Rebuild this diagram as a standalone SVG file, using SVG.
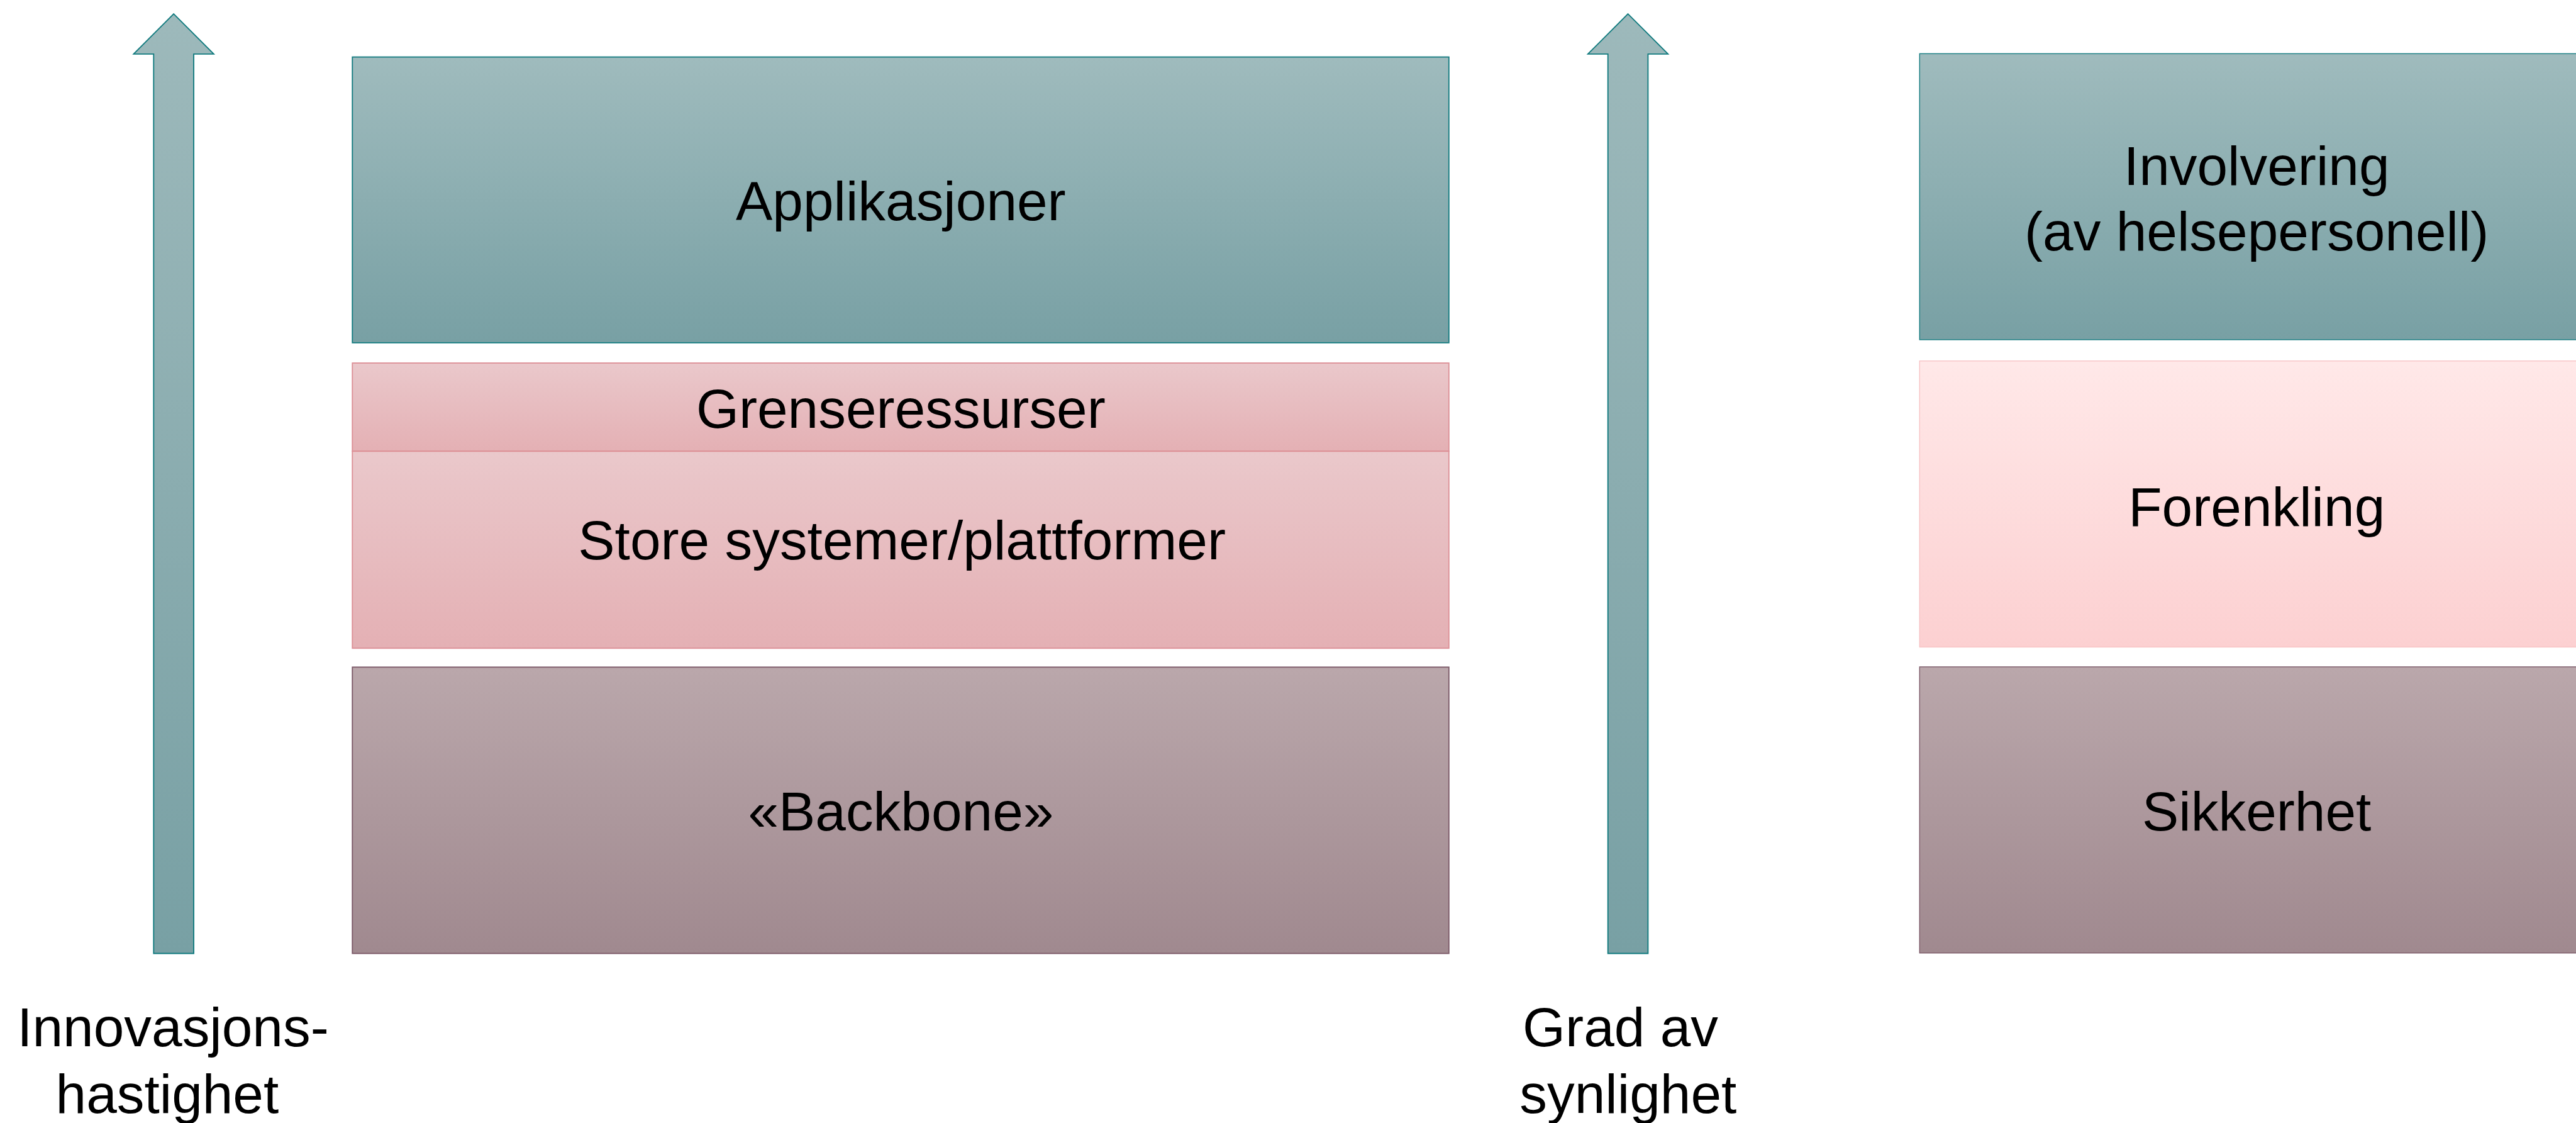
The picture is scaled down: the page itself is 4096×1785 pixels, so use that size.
<svg xmlns="http://www.w3.org/2000/svg" width="4096" height="1785" viewBox="0 0 4096 1785">
  <defs>
    <linearGradient id="gTeal" x1="0" y1="0" x2="0" y2="1">
      <stop offset="0" stop-color="#9fbbbd"/>
      <stop offset="1" stop-color="#78a0a4"/>
    </linearGradient>
    <linearGradient id="gArrow" gradientUnits="userSpaceOnUse" x1="0" y1="24" x2="0" y2="1664">
      <stop offset="0" stop-color="#9db9bb"/>
      <stop offset="1" stop-color="#78a0a4"/>
    </linearGradient>
    <linearGradient id="gPink" x1="0" y1="0" x2="0" y2="1">
      <stop offset="0" stop-color="#eac8cb"/>
      <stop offset="1" stop-color="#e4b0b4"/>
    </linearGradient>
    <linearGradient id="gMauve" x1="0" y1="0" x2="0" y2="1">
      <stop offset="0" stop-color="#baa7ab"/>
      <stop offset="1" stop-color="#a0898f"/>
    </linearGradient>
    <linearGradient id="gLight" x1="0" y1="0" x2="0" y2="1">
      <stop offset="0" stop-color="#ffe8e8"/>
      <stop offset="1" stop-color="#fcd0d1"/>
    </linearGradient>
    <style>
      text { font-family: "Liberation Sans", Arial, sans-serif; font-size: 96px; fill: #000; text-anchor: middle; }
      .teal { fill: url(#gTeal); stroke: #137a7f; stroke-width: 2; }
      .pink { fill: url(#gPink); stroke: #dc8f96; stroke-width: 2; }
      .mauve { fill: url(#gMauve); stroke: #7b5867; stroke-width: 2; }
      .light { fill: url(#gLight); stroke: #f7c2c4; stroke-width: 1.5; }
      .arrow { fill: url(#gArrow); stroke: #0f7a7e; stroke-width: 2; stroke-linejoin: miter; }
    </style>
  </defs>
  <rect width="4096" height="1785" fill="#ffffff"/>
  <g transform="scale(0.9106)">
    <!-- upward arrows -->
    <g id="arrow-innovasjon">
      <path class="arrow" d="M303.3 24.3 L373.3 94.3 L338.3 94.3 L338.3 1664.3 L268.3 1664.3 L268.3 94.3 L233.3 94.3 Z"/>
      <text x="302" y="1826.7">Innovasjons-</text>
      <text x="292" y="1942.7">hastighet</text>
    </g>
    <g id="arrow-synlighet">
      <path class="arrow" d="M2842.7 24.3 L2912.7 94.3 L2877.7 94.3 L2877.7 1664.3 L2807.7 1664.3 L2807.7 94.3 L2772.7 94.3 Z"/>
      <text x="2829.5" y="1826.7">Grad av</text>
      <text x="2843" y="1942.7">synlighet</text>
    </g>

    <!-- left stack -->
    <g id="applikasjoner">
      <rect class="teal" x="615.3" y="99.5" width="1914.7" height="498.8"/>
      <text x="1573" y="384.3">Applikasjoner</text>
    </g>
    <g id="grenseressurser">
      <rect class="pink" x="615.3" y="633.7" width="1914.7" height="154"/>
      <text x="1573" y="746.7">Grenseressurser</text>
    </g>
    <g id="store-systemer">
      <rect class="pink" x="615.3" y="787.7" width="1914.7" height="343.8"/>
      <text x="1575" y="976.7">Store systemer/plattformer</text>
    </g>
    <g id="backbone">
      <rect class="mauve" x="615.3" y="1164.5" width="1914.7" height="499.8"/>
      <text x="1573" y="1450">«Backbone»</text>
    </g>

    <!-- right stack -->
    <g id="involvering">
      <rect class="teal" x="3352" y="93.7" width="1177" height="499.3" style="stroke-width:1.5"/>
      <text x="3940.5" y="322.9">Involvering</text>
      <text x="3940.5" y="437">(av helsepersonell)</text>
    </g>
    <g id="forenkling">
      <rect class="light" x="3352" y="630" width="1177" height="499.5"/>
      <text x="3940.5" y="918">Forenkling</text>
    </g>
    <g id="sikkerhet">
      <rect class="mauve" x="3352" y="1164" width="1177" height="499.5" style="stroke-width:1.5"/>
      <text x="3940.5" y="1449.8">Sikkerhet</text>
    </g>
  </g>
</svg>
